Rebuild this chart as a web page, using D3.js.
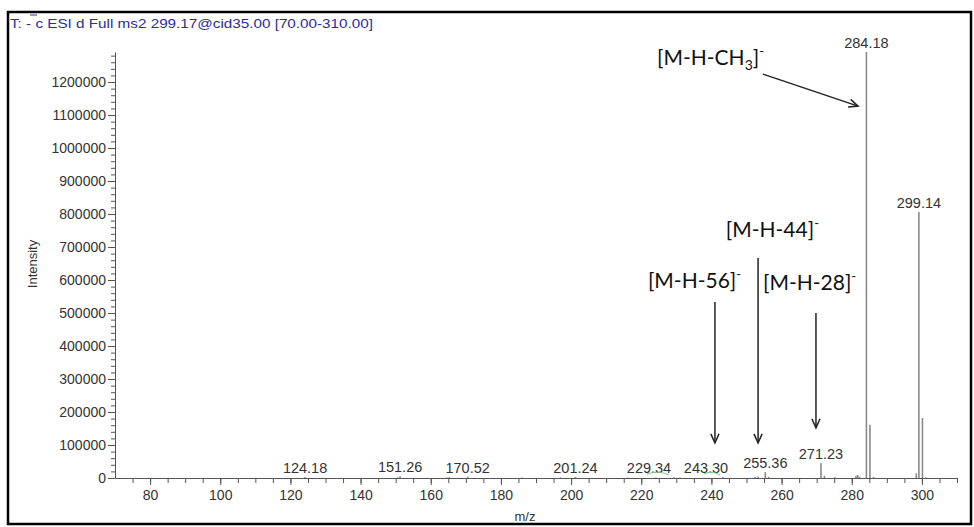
<!DOCTYPE html>
<html>
<head>
<meta charset="utf-8">
<script src="https://cdn.jsdelivr.net/npm/d3@7"></script>
<style>
  body { margin: 0; background: #fff; }
</style>
</head>
<body>
<div id="chart"></div>
<script>
// Datos del espectro (m/z e intensidad)
const peakMz = [124.18, 150.6, 151.26, 164.5, 165.3, 170.52, 186.0, 197.0, 201.24, 216.2,
                224.2, 229.34, 231.0, 243.30, 252.4, 253.3, 255.36, 256.3, 271.23, 272.2,
                275.2, 281.2, 281.7, 282.2, 284.18, 285.18, 286.2, 298.4, 299.14, 300.15, 301.1];
const peakIntensity = [3000, 2000, 5000, 1500, 2500, 4000, 1500, 1500, 3000, 1500,
                       1500, 2500, 1500, 3000, 3000, 4500, 18000, 4000, 45000, 7000,
                       2500, 7000, 9000, 4000, 1291000, 161000, 3000, 14000, 806000, 182000, 2000];

// Picos etiquetados
const labelMz = [124.18, 151.26, 170.52, 201.24, 229.34, 243.30, 255.36, 271.23, 284.18, 299.14];

// Ejes
const xTickValues = [80, 100, 120, 140, 160, 180, 200, 220, 240, 260, 280, 300];
const yTickValues = [0, 100000, 200000, 300000, 400000, 500000, 600000, 700000, 800000, 900000, 1000000, 1100000, 1200000];

// Anotaciones (fragmentos)
const annoNames = ['[M-H-CH3]', '[M-H-44]', '[M-H-56]', '[M-H-28]'];
// flechas: [mz inicio, intensidad inicio, mz fin, intensidad fin]
const annoArrows = [
  [254.7, 1224000, 281.8, 1127000],
  [253.3, 667000, 253.3, 106000],
  [241.0, 533000, 241.0, 106000],
  [269.8, 500000, 269.8, 152000]
];
// posición del texto: [mz, intensidad] de la línea base
const annoText = [
  [224.5, 1251000],
  [244.1, 730000],
  [221.9, 576000],
  [254.7, 570000]
];

const W = 974, H = 527;
const margin = {top: 52, right: 17, bottom: 49, left: 115};
const sansFont = '"Liberation Sans", Arial, sans-serif';

const svg = d3.select('#chart').append('svg')
  .attr('width', W).attr('height', H)
  .style('font-family', sansFont);

// Marco
svg.append('rect')
  .attr('x', 8).attr('y', 12).attr('width', 963).attr('height', 512)
  .attr('fill', 'none').attr('stroke', '#000').attr('stroke-width', 2.5);

// Título
svg.append('text')
  .attr('x', 10).attr('y', 28)
  .attr('font-size', 13.5)
  .attr('fill', '#2c2ca0')
  .attr('textLength', 363).attr('lengthAdjust', 'spacingAndGlyphs')
  .text('T: - c ESI d Full ms2 299.17@cid35.00 [70.00-310.00]');
svg.append('line')
  .attr('x1', 30).attr('x2', 37).attr('y1', 15).attr('y2', 15)
  .attr('stroke', '#2c2ca0').attr('stroke-width', 1);

const x = d3.scaleLinear().domain([70, 310]).range([margin.left, W - margin.right]);
const y = d3.scaleLinear().domain([0, 1291000]).range([H - margin.bottom, margin.top]);

const axisColor = '#555';

// Eje X
const gx = svg.append('g').attr('transform', 'translate(0,' + y(0) + ')');
gx.call(d3.axisBottom(x).tickValues(d3.range(75, 311, 5)).tickSize(5).tickFormat(''));
gx.call(g => g.select('.domain').remove());
const gx2 = svg.append('g').attr('transform', 'translate(0,' + y(0) + ')');
gx2.call(d3.axisBottom(x).tickValues(xTickValues).tickSize(7).tickPadding(5).tickSizeOuter(0));

// Eje Y
const gy = svg.append('g').attr('transform', 'translate(' + x(70) + ',0)');
gy.call(d3.axisLeft(y).tickValues(d3.range(0, 1291000, 20000)).tickSize(4).tickFormat(''));
gy.call(g => g.select('.domain').remove());
const gy2 = svg.append('g').attr('transform', 'translate(' + x(70) + ',0)');
gy2.call(d3.axisLeft(y).tickValues(yTickValues).tickSize(7).tickPadding(2).tickSizeOuter(0).tickFormat(d3.format('d')));

[gx, gx2, gy, gy2].forEach(g => {
  g.selectAll('line, path').attr('stroke', axisColor);
  g.selectAll('text').attr('font-size', 14).attr('fill', '#333').attr('font-family', sansFont);
});

// Títulos de ejes
svg.append('text')
  .attr('transform', 'translate(37,' + 264 + ') rotate(-90)')
  .attr('text-anchor', 'middle').attr('font-size', 13).attr('fill', '#333')
  .text('Intensity');
svg.append('text')
  .attr('x', 525).attr('y', 521)
  .attr('text-anchor', 'middle').attr('font-size', 13).attr('fill', '#333')
  .text('m/z');

// Picos
svg.selectAll('line.peak')
  .data(peakMz)
  .enter()
  .append('line')
  .attr('class', 'peak')
  .attr('x1', d => x(d)).attr('x2', d => x(d))
  .attr('y1', y(0))
  .attr('y2', (d, i) => y(peakIntensity[i]))
  .attr('stroke', '#8a8a8a')
  .attr('stroke-width', 1.6);

// Etiquetas de los picos (algunas desplazadas para evitar solapes)
const labelShift = {'229.34': -25, '243.3': -17};
svg.selectAll('text.plabel')
  .data(labelMz)
  .enter()
  .append('text')
  .attr('class', 'plabel')
  .attr('x', d => x(d) + (labelShift[String(d)] || 0))
  .attr('y', d => y(peakIntensity[peakMz.indexOf(d)]) - 4)
  .attr('text-anchor', 'middle')
  .attr('font-size', 14.5).attr('fill', '#333')
  .text(d => d.toFixed(2));

// Subrayados verdes bajo 229.34 y 243.30
[[229.34, -25, 22], [243.30, -17, 16]].forEach(s => {
  const x0 = x(s[0]) + s[1] - 2, x1 = x0 + s[2];
  svg.append('path')
    .attr('d', 'M' + x0 + ',' + 474 + ' Q' + (x0 + x1) / 2 + ',' + 470 + ' ' + x1 + ',' + 475)
    .attr('fill', 'none').attr('stroke', '#7cc47c').attr('stroke-width', 1);
});

// Anotaciones
const annoFont = 'Lato, "Open Sans", sans-serif';
annoNames.forEach((name, i) => {
  const t = svg.append('text')
    .attr('x', x(annoText[i][0])).attr('y', y(annoText[i][1]))
    .style('font-family', annoFont).attr('font-size', 21).attr('fill', '#111');
  if (name.endsWith('CH3]')) {
    t.append('tspan').text('[M-H-CH');
    t.append('tspan').attr('font-size', 14).attr('dy', 5).text('3');
    t.append('tspan').attr('dy', -5).text(']');
  } else {
    t.append('tspan').text(name);
  }
  t.append('tspan').attr('font-size', 13).attr('dy', -9).text('-');
});

annoArrows.forEach(a => {
  const x1 = x(a[0]), y1 = y(a[1]), x2 = x(a[2]), y2 = y(a[3]);
  const ang = Math.atan2(y2 - y1, x2 - x1);
  const len = 10, spread = 0.42;
  svg.append('line')
    .attr('x1', x1).attr('y1', y1).attr('x2', x2).attr('y2', y2)
    .attr('stroke', '#222').attr('stroke-width', 1.5);
  const p1 = [x2 - len * Math.cos(ang - spread), y2 - len * Math.sin(ang - spread)];
  const p2 = [x2 - len * Math.cos(ang + spread), y2 - len * Math.sin(ang + spread)];
  svg.append('path')
    .attr('d', 'M' + p1 + ' L' + x2 + ',' + y2 + ' L' + p2)
    .attr('fill', 'none').attr('stroke', '#222').attr('stroke-width', 1.5);
});
</script>
</body>
</html>
